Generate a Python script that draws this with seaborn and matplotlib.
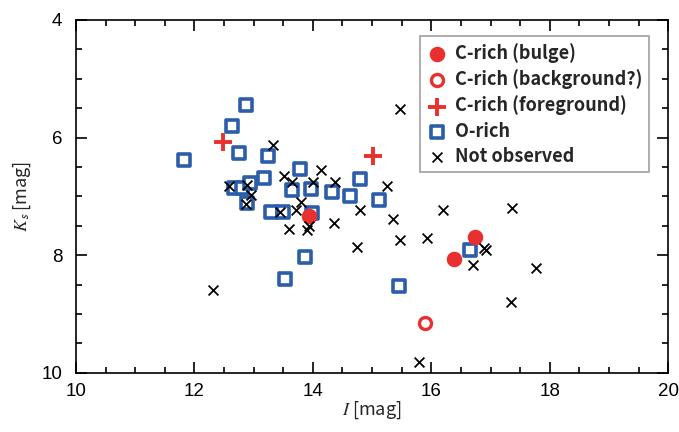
import pandas as pd
import matplotlib
matplotlib.use("Agg")
import matplotlib.pyplot as plt
import seaborn as sns

# I magnitude / Ks magnitude
bulge_i = [13.94, 16.39, 16.73]
bulge_k = [7.33, 8.07, 7.69]

background_i = [15.90]
background_k = [9.16]

foreground_i = [12.49, 15.01]
foreground_k = [6.08, 6.32]

orich_i = [12.87, 12.64, 12.75, 11.82, 13.24, 13.18, 12.67, 12.80, 12.93, 12.88,
           13.29, 13.49, 13.78, 13.65, 13.96, 14.32, 14.63, 14.80, 15.12, 13.99,
           13.86, 13.53, 15.45, 16.65]
orich_k = [5.44, 5.81, 6.27, 6.39, 6.32, 6.68, 6.85, 6.85, 6.77, 7.12,
           7.27, 7.26, 6.53, 6.90, 6.87, 6.93, 6.99, 6.70, 7.06, 7.28,
           8.03, 8.41, 8.52, 7.91]

notobs_i = [12.32, 12.58, 12.89, 12.95, 12.87, 13.33, 13.52, 13.64, 13.45, 13.72,
            13.80, 13.59, 13.90, 13.94, 14.01, 14.13, 14.38, 14.35, 14.80, 14.75,
            15.26, 15.35, 15.47, 15.47, 15.92, 16.19, 16.70, 16.89, 16.92, 17.37,
            17.77, 17.34, 15.79]
notobs_k = [8.60, 6.82, 6.81, 6.98, 7.13, 6.13, 6.65, 6.75, 7.26, 7.24,
            7.10, 7.55, 7.57, 7.50, 6.76, 6.56, 6.76, 7.45, 7.23, 7.86,
            6.82, 7.39, 5.51, 7.74, 7.71, 7.23, 8.17, 7.88, 7.91, 7.20,
            8.21, 8.79, 9.82]

red = "#e8302e"
blue = "#2b5dab"

sns.set_style("ticks")
plt.rcParams["font.family"] = ["Liberation Sans", "DejaVu Sans"]
plt.rcParams["mathtext.fontset"] = "stix"

fig = plt.figure(figsize=(6.79, 4.32), dpi=100)
ax = fig.add_axes([0.112, 0.137, 0.872, 0.817])

orich = pd.DataFrame({"I": orich_i, "Ks": orich_k})
sns.scatterplot(data=orich, x="I", y="Ks", ax=ax, marker="s", s=70,
                facecolor="white", edgecolor=blue, linewidth=2.6,
                label="O-rich", zorder=2)

bulge = pd.DataFrame({"I": bulge_i, "Ks": bulge_k})
sns.scatterplot(data=bulge, x="I", y="Ks", ax=ax, marker="o", s=125,
                color=red, edgecolor=red, linewidth=0,
                label="C-rich (bulge)", zorder=3)

bg = pd.DataFrame({"I": background_i, "Ks": background_k})
sns.scatterplot(data=bg, x="I", y="Ks", ax=ax, marker="o", s=75,
                facecolor="white", edgecolor=red, linewidth=2.4,
                label="C-rich (background?)", zorder=3)

fg = pd.DataFrame({"I": foreground_i, "Ks": foreground_k})
sns.scatterplot(data=fg, x="I", y="Ks", ax=ax, marker="+", s=180,
                color=red, linewidth=2.8,
                label="C-rich (foreground)", zorder=3)

nobs = pd.DataFrame({"I": notobs_i, "Ks": notobs_k})
sns.scatterplot(data=nobs, x="I", y="Ks", ax=ax, marker="x", s=50,
                color="black", linewidth=1.3,
                label="Not observed", zorder=4)

ax.set_xlim(10, 20)
ax.set_ylim(10, 4)
ax.set_xticks([10, 12, 14, 16, 18, 20])
ax.set_yticks([4, 6, 8, 10])
ax.set_xticks([10 + 0.5 * i for i in range(21)], minor=True)
ax.set_yticks([4 + 0.5 * i for i in range(13)], minor=True)
ax.tick_params(which="both", direction="in", top=True, right=True,
               width=1.2, colors="black", labelsize=13.5)
ax.tick_params(which="major", length=8)
ax.tick_params(axis="x", which="major", pad=7)
ax.tick_params(axis="y", which="major", pad=10)
ax.tick_params(which="minor", length=4.5)
for sp in ax.spines.values():
    sp.set_visible(True)
    sp.set_linewidth(1.2)
    sp.set_color("black")

ax.set_xlabel(r"$I$ [mag]", fontsize=13, family=["Noto Sans CJK JP"], labelpad=0)
ax.set_ylabel(r"$K_{\mathsf{s}}$ [mag]", fontsize=13, family=["Noto Sans CJK JP"], labelpad=6)

handles, labels = ax.get_legend_handles_labels()
order = ["C-rich (bulge)", "C-rich (background?)", "C-rich (foreground)", "O-rich", "Not observed"]
hmap = dict(zip(labels, handles))
leg = ax.legend([hmap[l] for l in order], order, loc="upper right",
                bbox_to_anchor=(0.967, 0.953), frameon=True, fancybox=False,
                edgecolor="#a0a0a0", framealpha=1, handletextpad=0.4,
                handlelength=1.2, labelspacing=0.35, borderpad=0.35,
                borderaxespad=0,
                prop={"family": ["Noto Sans CJK JP"], "weight": "bold", "size": 13})
leg.get_frame().set_linewidth(1.2)

fig.savefig("out.png", dpi=100)
